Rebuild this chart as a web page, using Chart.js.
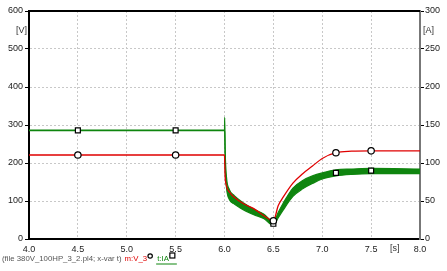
<!DOCTYPE html>
<html>
<head>
<meta charset="utf-8">
<script src="https://cdn.jsdelivr.net/npm/chart.js@4"></script>
<style>
  html, body { margin: 0; padding: 0; background: #fff; }
  #wrap { width: 447px; height: 271px; position: relative; }
</style>
</head>
<body>
<div id="wrap"><canvas id="plot"></canvas></div>
<script>
// voltage m:V_3 [V], left axis
var timeV   = [4.0, 6.0, 6.005, 6.02, 6.05, 6.1, 6.2, 6.3, 6.4, 6.5, 6.55, 6.6, 6.7, 6.8, 6.9, 7.0, 7.14, 7.3, 7.5, 8.0];
var voltage = [221, 221, 172, 140, 124, 110, 92, 80, 62, 48, 88, 110, 147, 172, 192, 212, 227, 231, 232, 232];

// current t:IA [A], right axis (oscillating band: upper / lower envelope)
var timeI     = [4.0, 6.0, 6.002, 6.008, 6.02, 6.05, 6.1, 6.2, 6.3, 6.4, 6.5, 6.55, 6.6, 6.7, 6.8, 6.9, 7.0, 7.14, 7.3, 7.5, 8.0];
var currentHi = [143.3, 143.3, 160, 112, 82, 65, 57, 47, 39, 33, 23, 35, 47, 67, 77, 83, 87, 91, 92, 93, 92];
var currentLo = [142.7, 142.7, 140, 96, 68, 52, 46, 38, 32, 27, 18, 28, 38, 56, 66, 73, 79, 83, 85, 86, 86];

// marker positions
var markT = [4.5, 5.5, 6.5, 7.14, 7.5];
var markV = [221, 221, 48, 227, 232];
var markI = [143, 143, 20, 87, 90];

var xTicks = [4.0, 4.5, 5.0, 5.5, 6.0, 6.5, 7.0, 7.5, 8.0];

var red = '#e00000';
var green = '#0f850f';

function pts(xs, ys) {
  return xs.map(function(x, i) { return {x: x, y: ys[i]}; });
}

var tickFont = {family: 'Liberation Sans, Arial, sans-serif', size: 9};

// text and frame that Chart.js has no option for
var extras = {
  id: 'extras',
  afterDraw: function(chart) {
    var ctx = chart.ctx, a = chart.chartArea;
    ctx.save();
    ctx.strokeStyle = '#000';
    ctx.lineWidth = 2;
    ctx.beginPath();
    ctx.moveTo(a.left - 1, a.top);
    ctx.lineTo(a.right, a.top);
    ctx.stroke();

    ctx.font = '9px Liberation Sans, Arial, sans-serif';
    ctx.fillStyle = '#333';
    ctx.textBaseline = 'middle';
    ctx.textAlign = 'left';
    ctx.fillText('[V]', 16, 31);
    ctx.fillText('[A]', 423, 31);
    ctx.fillText('[s]', 390, 249);

    // legend line
    ctx.font = '7.8px Liberation Sans, Arial, sans-serif';
    var x = 2, y = 259;
    ctx.fillStyle = '#555';
    var s = '(file 380V_100HP_3_2.pl4; x-var t)';
    ctx.fillText(s, x, y);
    x += ctx.measureText(s).width + 3;
    ctx.fillStyle = red;
    ctx.fillText('m:V_3', x, y);
    x += ctx.measureText('m:V_3').width + 3;
    ctx.strokeStyle = '#000';
    ctx.lineWidth = 1.2;
    ctx.fillStyle = '#fff';
    ctx.beginPath();
    ctx.arc(x, y - 3, 2.2, 0, Math.PI * 2);
    ctx.fill();
    ctx.stroke();
    x += 7;
    ctx.fillStyle = green;
    ctx.fillText('t:IA', x, y);
    var w = ctx.measureText('t:IA').width;
    ctx.strokeStyle = green;
    ctx.lineWidth = 1;
    ctx.beginPath();
    ctx.moveTo(x - 1, y + 5);
    ctx.lineTo(x + w + 8, y + 5);
    ctx.stroke();
    ctx.fillStyle = '#fff';
    ctx.strokeStyle = '#000';
    ctx.lineWidth = 1.2;
    ctx.fillRect(x + w + 1, y - 6, 5, 5);
    ctx.strokeRect(x + w + 1, y - 6, 5, 5);
    ctx.restore();
  }
};

new Chart(document.getElementById('plot'), {
  type: 'line',
  data: {
    datasets: [
      {
        data: pts(markT, markV), yAxisID: 'yV', showLine: false,
        pointStyle: 'circle', pointRadius: 3.2, pointBackgroundColor: '#fff',
        pointBorderColor: '#000', pointBorderWidth: 1.2
      },
      {
        data: pts(markT, markI), yAxisID: 'yA', showLine: false,
        pointStyle: 'rect', pointRadius: 3.5, pointBackgroundColor: '#fff',
        pointBorderColor: '#000', pointBorderWidth: 1.2
      },
      {
        label: 'm:V_3', data: pts(timeV, voltage), yAxisID: 'yV',
        borderColor: red, borderWidth: 1.3, pointRadius: 0,
        cubicInterpolationMode: 'monotone', fill: false
      },
      {
        label: 't:IA hi', data: pts(timeI, currentHi), yAxisID: 'yA',
        borderColor: green, borderWidth: 1.2, pointRadius: 0,
        cubicInterpolationMode: 'monotone', fill: false
      },
      {
        label: 't:IA lo', data: pts(timeI, currentLo), yAxisID: 'yA',
        borderColor: green, borderWidth: 1.2, pointRadius: 0,
        cubicInterpolationMode: 'monotone', fill: '-1', backgroundColor: green
      }
    ]
  },
  options: {
    responsive: true,
    maintainAspectRatio: false,
    animation: false,
    layout: {padding: {top: 11, right: 0, left: 0, bottom: 0}},
    plugins: {legend: {display: false}, tooltip: {enabled: false}},
    scales: {
      x: {
        type: 'linear', min: 4, max: 8,
        afterBuildTicks: function(s) { s.ticks = xTicks.map(function(v) { return {value: v}; }); },
        afterFit: function(s) { s.height = 32; },
        ticks: {
          font: tickFont, color: '#222', padding: 5, maxRotation: 0,
          callback: function(v) { return v.toFixed(1); }
        },
        grid: {color: '#c8c8c8', drawTicks: false},
        border: {color: '#000', width: 2, dash: [2, 2]}
      },
      yV: {
        position: 'left', min: 0, max: 600,
        afterFit: function(s) { s.width = 29; },
        ticks: {stepSize: 100, font: tickFont, color: '#222', padding: 2},
        grid: {color: '#c8c8c8', tickLength: 4, tickColor: '#000', tickWidth: 1, tickBorderDash: []},
        border: {color: '#000', width: 2, dash: [2, 2]}
      },
      yA: {
        position: 'right', min: 0, max: 300,
        afterFit: function(s) { s.width = 27; },
        ticks: {stepSize: 50, font: tickFont, color: '#222', padding: 1},
        grid: {drawOnChartArea: false, tickLength: 4, tickColor: '#000', tickWidth: 1, tickBorderDash: []},
        border: {color: '#777', width: 2}
      }
    }
  },
  plugins: [extras]
});
</script>
</body>
</html>
